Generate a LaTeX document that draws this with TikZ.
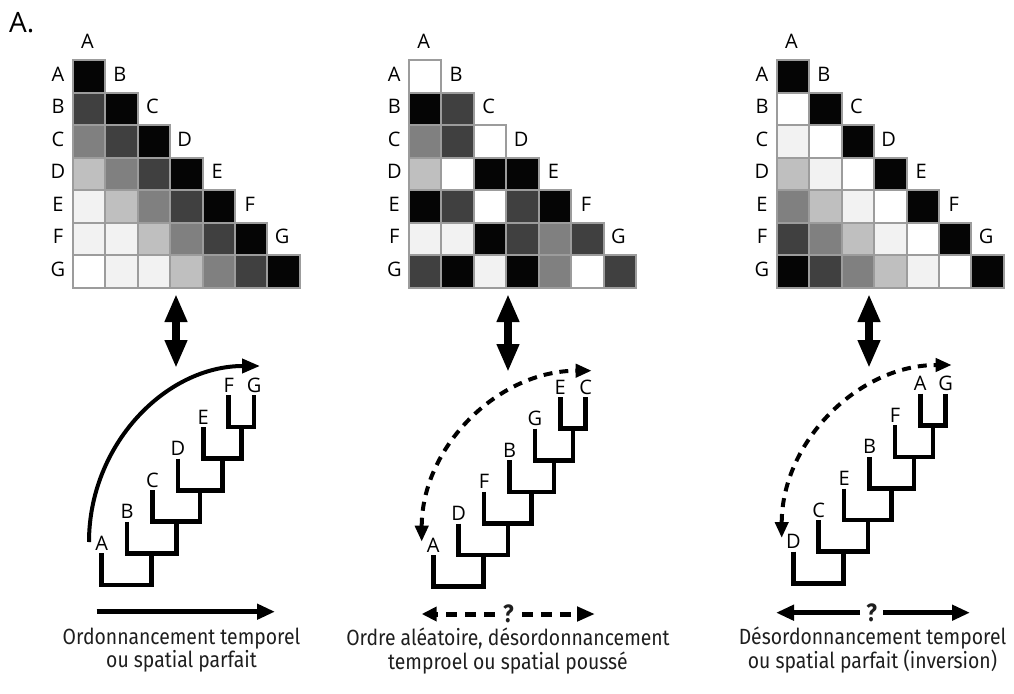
\documentclass[tikz,border=0pt]{standalone}
\usepackage{fontspec}
\setmainfont{Open Sans}
\newfontfamily\capfont[FakeStretch=0.88]{Fira Sans}
\usetikzlibrary{arrows.meta}
\definecolor{g0}{HTML}{050505}
\definecolor{g1}{HTML}{404040}
\definecolor{g2}{HTML}{808080}
\definecolor{g3}{HTML}{BFBFBF}
\definecolor{g4}{HTML}{F2F2F2}
\definecolor{g5}{HTML}{FFFFFF}
\definecolor{cellborder}{HTML}{9C9C9C}
\definecolor{txtcol}{HTML}{1E1E1E}
\tikzset{
  cell/.style={draw=cellborder, line width=2pt},
  lab/.style={font=\fontsize{20}{24}\selectfont, inner sep=0pt, anchor=base},
  treeline/.style={line width=4.7pt, line join=miter, line cap=butt},
  dblarrow/.style={line width=8pt, arrows={Triangle[length=28pt,width=21pt]-Triangle[length=28pt,width=21pt]}},
  curvesolid/.style={line width=4pt, arrows={-Triangle[length=18pt,width=14pt]}},
  curvedash/.style={line width=4pt, dash pattern=on 9pt off 7pt, arrows={Triangle[length=16pt,width=13pt]-Triangle[length=16pt,width=13pt]}},
  bottomline/.style={line width=5pt},
  bottomdash/.style={line width=5pt, dash pattern=on 11pt off 8pt},
  qmark/.style={font=\capfont\bfseries\fontsize{25}{28}\selectfont, inner ysep=0pt, text=txtcol},
  caption/.style={font=\capfont\fontsize{22}{23.5}\selectfont, align=center, inner sep=0pt, text=txtcol},
}
\newcommand\drawmatrix[4]{% id, x0, y0, rows
  \foreach \row [count=\i from 0] in {#4} {
    \foreach \v [count=\j from 0] in \row {
      \path[cell, fill=g\v] ({#2+\j*32.45},{#3+\i*32.45}) rectangle ++(32.45,32.45);
    }
  }
  \foreach \L [count=\i from 0] in {A,B,C,D,E,F,G} {
    \node[lab] (#1r\L) at ({#2-14.7},{#3+32.45*(\i+0.5)+4.6}) {\L};
    \node[lab] (#1c\L) at ({#2+32.45*(\i+0.5)-1.5},{#3+32.45*(\i-0.5)+4.6}) {\L};
  }
}
\newcommand\drawtree[4]{% id, leaf0 x, root y, labels
  \foreach \k/\r in {0/50.0,1/74.6,2/98.4,3/120.7,4/139.7,5/152.4} {
    \draw[treeline] ({#2+25.4*\k},{#3-31.6*(\k+1)}) -- ({#2+25.4*\k},{#3-31.6*\k})
      -- ({#2+\r},{#3-31.6*\k}) -- ({#2+\r},{#3-31.6*(\k+1)});
  }
  \foreach \L [count=\k from 0] in {#4} {
    \pgfmathsetmacro\tp{#3-31.6*min(\k+1,6)}
    \node[lab] (#1\L) at ({#2+25.4*\k},{\tp-3}) {\L};
  }
}
\begin{document}
\begin{tikzpicture}[x=1pt,y=-1pt]
\useasboundingbox (0,0) rectangle (1014,693);
\node[font=\fontsize{28}{32}\selectfont, inner sep=0pt, anchor=base west] (title) at (9,32.5) {A.};

% matrices
\drawmatrix{ma}{72.7}{60.5}{{0},{1,0},{2,1,0},{3,2,1,0},{4,3,2,1,0},{4,4,3,2,1,0},{5,4,4,3,2,1,0}}
\drawmatrix{mb}{409}{60.5}{{5},{0,1},{2,1,5},{3,5,0,0},{0,1,5,1,0},{4,4,0,1,2,1},{1,0,4,0,2,5,1}}
\drawmatrix{mc}{776.7}{60.5}{{0},{5,0},{4,5,0},{3,4,5,0},{2,3,4,5,0},{1,2,3,4,5,0},{0,1,2,3,4,5,0}}

% double arrows
\coordinate (da1) at (176,294); \coordinate (db1) at (176,368);
\coordinate (da2) at (508,294); \coordinate (db2) at (508,372);
\coordinate (da3) at (869,294); \coordinate (db3) at (869,368);
\draw[dblarrow] (da1) -- (db1);
\draw[dblarrow] (da2) -- (db2);
\draw[dblarrow] (da3) -- (db3);

% trees
\drawtree{ta}{101.7}{585}{A,B,C,D,E,F,G}
\drawtree{tb}{433.3}{586.7}{A,D,F,B,G,E,C}
\drawtree{tc}{793.3}{583.3}{D,C,E,B,F,A,G}

% curved arrows
\coordinate (ca0) at (89,542); \coordinate (ca1) at (260,366);
\draw[curvesolid] (ca0) .. controls (89,444.8) and (165.6,366) .. (ca1);
\coordinate (cb0) at (421.7,541.7); \coordinate (cb1) at (591.7,370.7);
\draw[curvedash] (cb0) .. controls (421.7,447.3) and (497.8,370.7) .. (cb1);
\coordinate (cc0) at (781.7,538); \coordinate (cc1) at (951.7,365);
\draw[curvedash] (cc0) .. controls (781.7,442.5) and (857.8,365) .. (cc1);

% bottom arrows
\coordinate (ba0) at (96.7,611.7); \coordinate (ba1) at (275,611.7);
\draw[bottomline, arrows={-Triangle[length=18pt,width=15pt]}] (ba0) -- (ba1);

\node[qmark, inner xsep=8pt] (q2) at (508.3,614) {?};
\coordinate (bb0) at (421.7,614); \coordinate (bb1) at (595,614);
\draw[bottomdash, arrows={-Triangle[length=15pt,width=14pt]}] (q2.west) -- (bb0);
\draw[bottomdash, arrows={-Triangle[length=18pt,width=14pt]}] (q2.east) -- (bb1);

\node[qmark, inner xsep=6pt] (q3) at (871.7,612.7) {?};
\coordinate (bc0) at (776,612.7); \coordinate (bc1) at (970,612.7);
\draw[bottomline, arrows={-Triangle[length=18pt,width=15pt]}] (q3.west) -- (bc0);
\draw[bottomline, arrows={-Triangle[length=18pt,width=15pt]}] (q3.east) -- (bc1);

% captions
\node[caption] (capa) at (181.5,650) {Ordonnancement temporel\\ou spatial parfait};
\node[caption] (capb) at (508,651) {Ordre aléatoire, désordonnancement\\temproel ou spatial poussé};
\node[caption] (capc) at (872.5,650) {Désordonnancement temporel\\ou spatial parfait (inversion)};
\end{tikzpicture}
\end{document}
